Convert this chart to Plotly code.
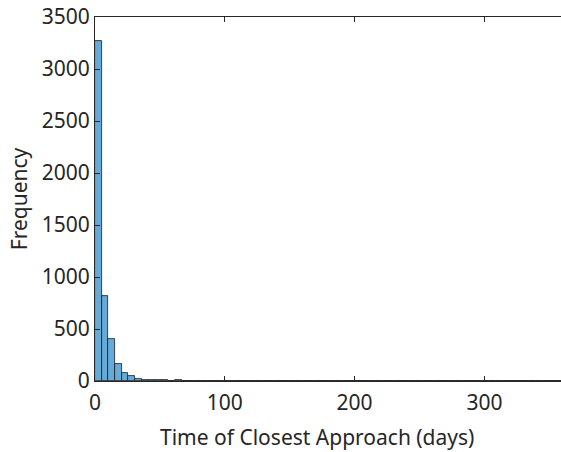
import plotly.graph_objects as go

# Histogram data (bin width in days, counts per bin)
bin_width = 360 / 70
counts = [3265, 822, 402, 160, 74, 46, 24, 14,
          9, 7, 5, 4, 5, 3, 4, 3, 2, 3, 4, 2, 3, 2, 2, 3, 1, 2, 3, 2, 2, 1,
          3, 2, 2, 1, 2, 2, 1, 3, 2, 1, 2, 2, 1, 2, 3, 1, 2, 1, 2, 2, 1, 1,
          2, 3, 1, 2, 1, 2, 1, 2, 1, 1, 2, 1, 2, 2, 1, 1, 2, 1]
x_ticks = [0, 100, 200, 300]
y_ticks = [0, 500, 1000, 1500, 2000, 2500, 3000, 3500]
x_title = "Time of Closest Approach (days)"
y_title = "Frequency"

centers = [bin_width * (i + 0.5) for i in range(len(counts))]

fig = go.Figure()
fig.add_trace(go.Bar(
    x=centers, y=counts, width=bin_width,
    marker=dict(color="#66AAD7", line=dict(color="#1a1a1a", width=0.8)),
))

font_family = "Noto Sans, Open Sans, sans-serif"
axis_common = dict(
    showgrid=False, zeroline=False, showline=True,
    linecolor="#262626", linewidth=1, ticks="inside", ticklen=5,
    tickcolor="#262626", tickfont=dict(family=font_family, size=21, color="#262626"),
)

fig.update_layout(
    width=561, height=452,
    margin=dict(l=95, r=0, t=17, b=71),
    paper_bgcolor="white", plot_bgcolor="white",
    showlegend=False, bargap=0,
    xaxis=dict(range=[0, 359], tickvals=x_ticks, mirror="ticks",
               ticklabelstandoff=3, **axis_common),
    yaxis=dict(range=[0, 3500], tickvals=y_ticks, mirror=False,
               title=dict(text=y_title,
                          font=dict(family=font_family, size=21, color="#262626"),
                          standoff=8),
               **axis_common),
    annotations=[dict(text=x_title, xref="paper", yref="paper",
                      x=0.476, y=-0.154, xanchor="center", yanchor="middle",
                      showarrow=False,
                      font=dict(family=font_family, size=21, color="#262626"))],
)

fig.write_html("out.html")
